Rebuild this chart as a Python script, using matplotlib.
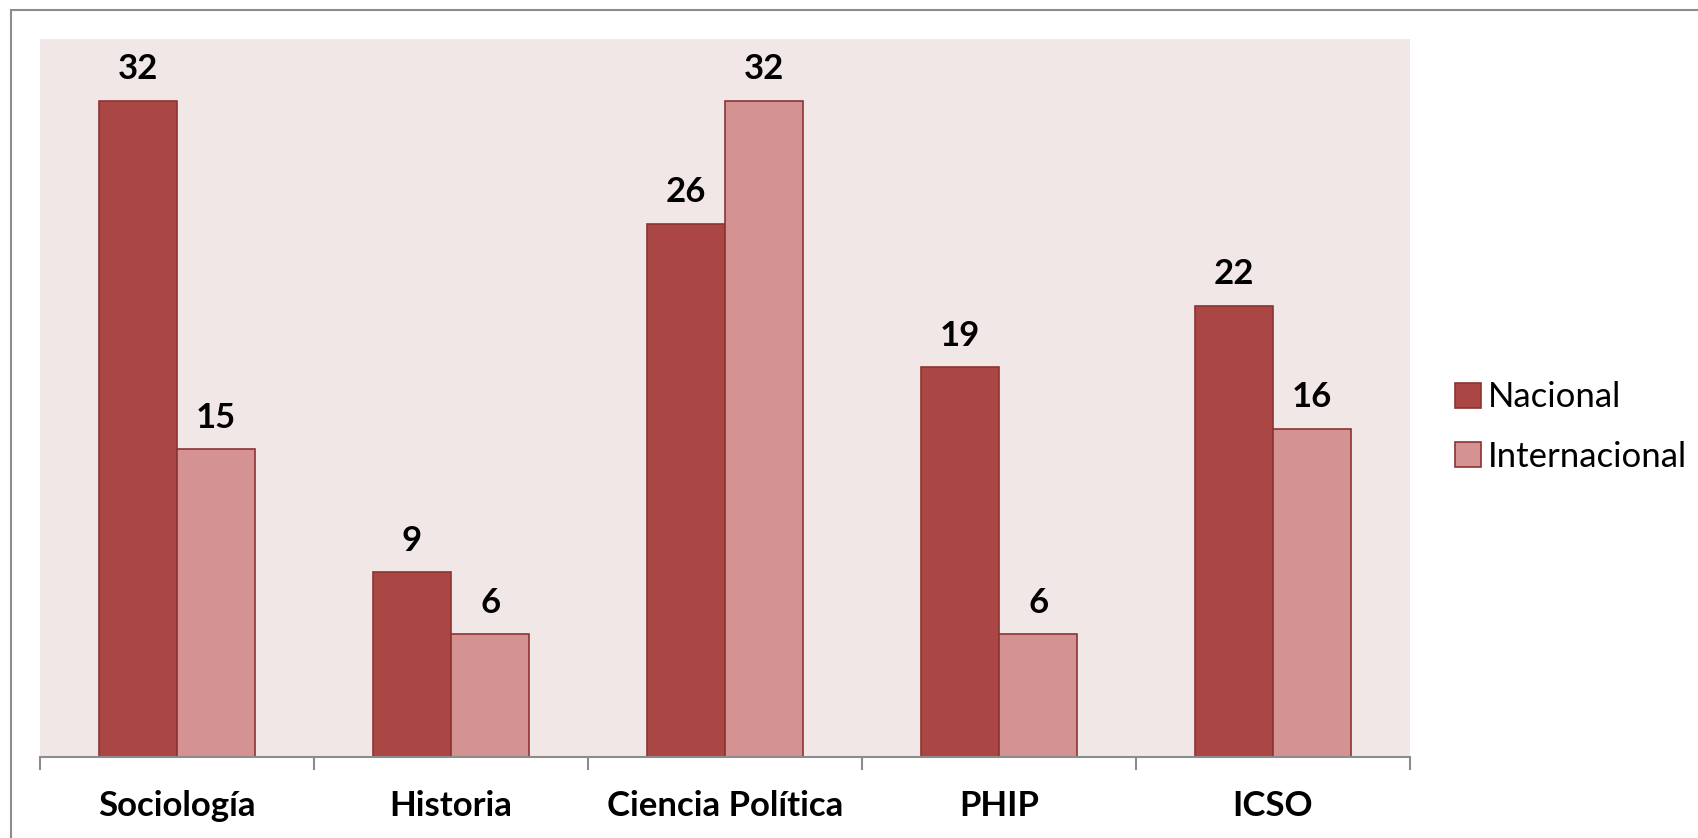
import matplotlib
matplotlib.use("Agg")
import matplotlib.pyplot as plt
from matplotlib.patches import Rectangle, Patch
import numpy as np

categories = ["Sociología", "Historia", "Ciencia Política", "PHIP", "ICSO"]
nacional = [32, 9, 26, 19, 22]
internacional = [15, 6, 32, 6, 16]
series_names = ["Nacional", "Internacional"]

FONT = ["Lato", "DejaVu Sans"]
plt.rcParams['font.family'] = FONT

W, H = 1698, 838
fig = plt.figure(figsize=(W / 100, H / 100), dpi=100)
ax = fig.add_axes([40 / W, 1 - 757 / H, 1370 / W, 718 / H])

c_nac = "#AA4644"
c_int = "#D49292"
edge = "#8C3432"
bg = "#F2E7E7"

ax.set_facecolor(bg)
x = np.arange(len(categories))
w = 1 / 3.5
b1 = ax.bar(x - w / 2, nacional, w, color=c_nac, edgecolor=edge, linewidth=1.2, zorder=2)
b2 = ax.bar(x + w / 2, internacional, w, color=c_int, edgecolor=edge, linewidth=1.2, zorder=2)

for bars, vals in ((b1, nacional), (b2, internacional)):
    for r, v in zip(bars, vals):
        ax.annotate(str(v), (r.get_x() + r.get_width() / 2, v), xytext=(0, 11),
                    textcoords="offset points", ha="center", va="bottom",
                    fontsize=25, fontweight="bold", color="black")

ax.set_xlim(-0.5, len(categories) - 0.5)
ax.set_ylim(0, 35)
ax.set_yticks([])
for s in ("top", "right", "left"):
    ax.spines[s].set_visible(False)
ax.spines["bottom"].set_color("#8C8C8C")
ax.spines["bottom"].set_linewidth(1.5)

ax.set_xticks(np.arange(-0.5, len(categories), 1.0), minor=False)
ax.set_xticklabels([])
ax.tick_params(axis="x", which="major", length=9, width=1.5, color="#8C8C8C", direction="out")
ax.set_xticks(x, minor=True)
ax.set_xticklabels(categories, minor=True, fontsize=25, fontweight="bold")
ax.tick_params(axis="x", which="minor", length=0, pad=24)

handles = [Patch(facecolor=c_nac, edgecolor=edge, linewidth=1.2),
           Patch(facecolor=c_int, edgecolor=edge, linewidth=1.2)]
leg = fig.legend(handles, series_names, loc="center left",
                 bbox_to_anchor=(1455 / W, 1 - 427 / H), frameon=False,
                 fontsize=25, handlelength=0.75, handleheight=0.75,
                 handletextpad=0.2, labelspacing=0.78, borderaxespad=0, borderpad=0)

fig.patches.append(Rectangle((11 / W, -0.1), 1.2, 1 - 10 / H + 0.1, transform=fig.transFigure,
                             fill=False, edgecolor="#8C8C8C", linewidth=1.5))

fig.savefig("out.png", dpi=100)
